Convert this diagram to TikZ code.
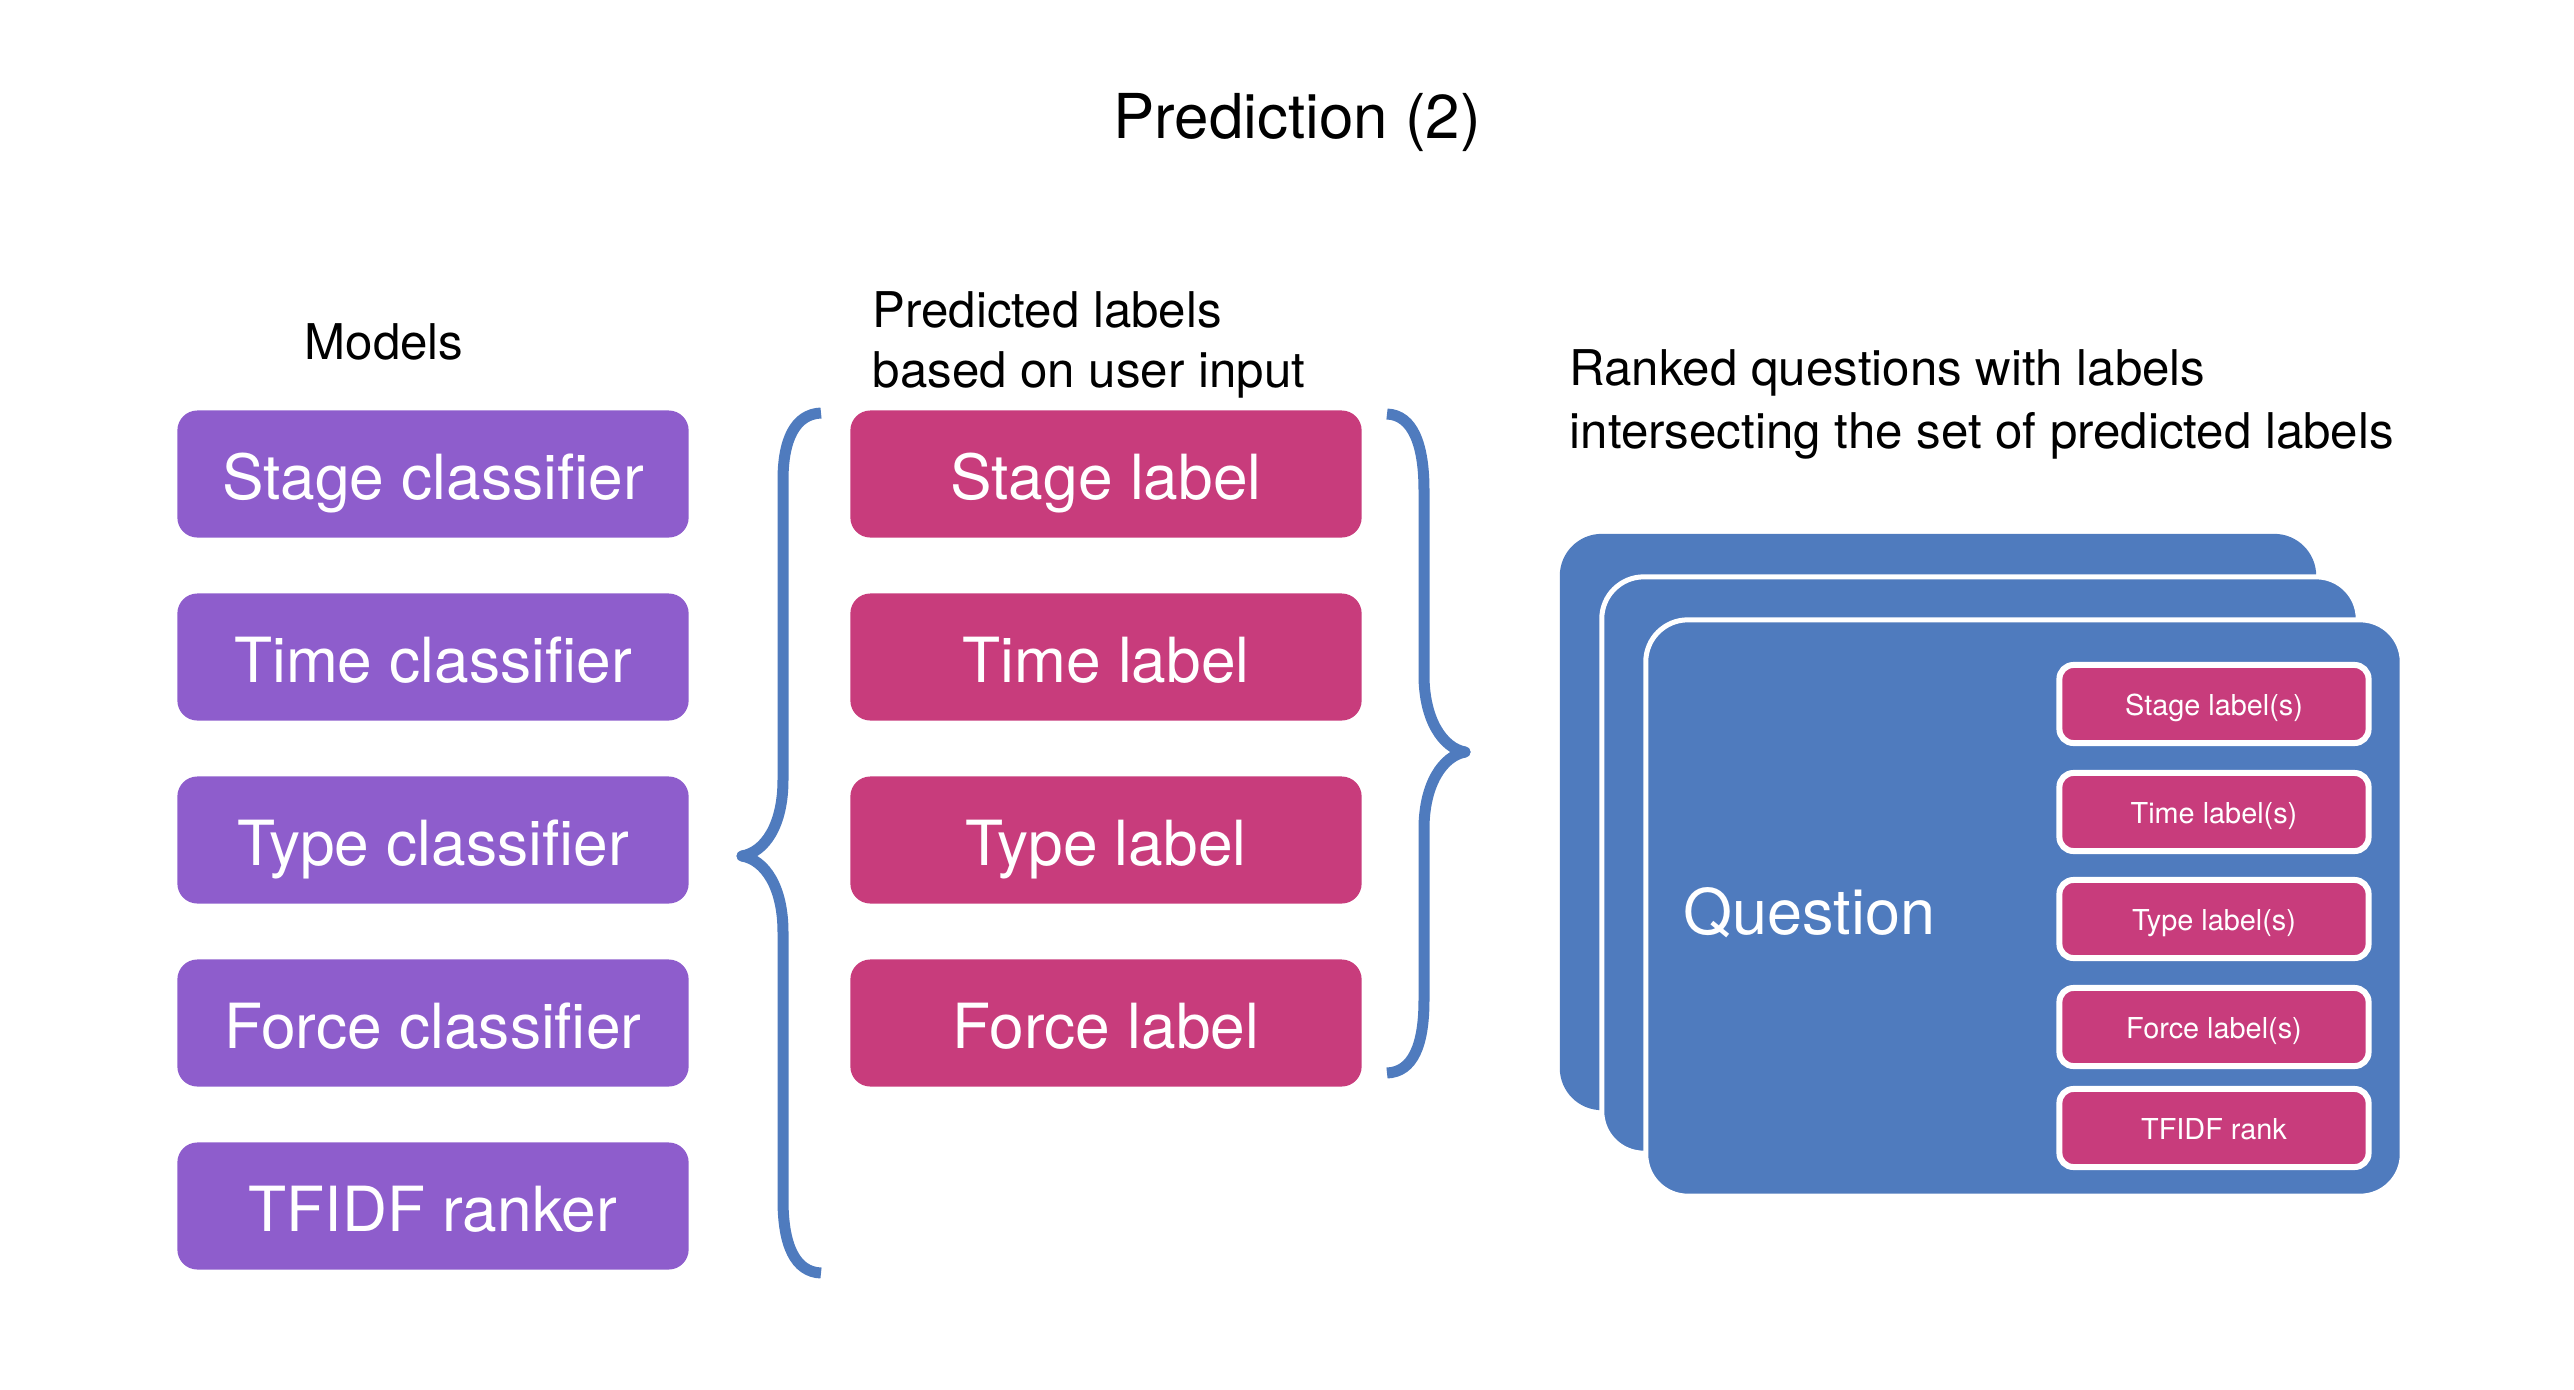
\documentclass[tikz,border=0pt]{standalone}
\usepackage{fontspec}
\setmainfont{TeX Gyre Heros}
\definecolor{modpurple}{RGB}{142,93,204}
\definecolor{labmag}{RGB}{200,60,124}
\definecolor{cardblue}{RGB}{79,123,190}
\tikzset{
  modelbox/.style={fill=modpurple, text=white, rounded corners=0.2cm, minimum width=5.11cm, minimum height=1.27cm, inner sep=0pt, text height=0.5cm, text depth=0cm, font=\fontsize{17.7}{21}\selectfont},
  labelbox/.style={fill=labmag, text=white, rounded corners=0.2cm, minimum width=5.11cm, minimum height=1.27cm, inner sep=0pt, text height=0.5cm, text depth=0cm, font=\fontsize{17.7}{21}\selectfont},
  cardbox/.style={fill=cardblue, draw=white, line width=0.05cm, rounded corners=0.42cm, minimum width=7.56cm, minimum height=5.76cm, inner sep=0pt},
  smallbox/.style={fill=labmag, draw=white, line width=0.06cm, text=white, rounded corners=0.14cm, minimum width=3.09cm, minimum height=0.78cm, inner sep=0pt, text height=0.22cm, text depth=0cm, font=\fontsize{8.2}{10}\selectfont},
  headtext/.style={font=\fontsize{14}{17.7}\selectfont, align=left, inner sep=0pt},
  bracestyle/.style={draw=cardblue, line width=0.11cm, line cap=butt, line join=round}
}
\begin{document}
\begin{tikzpicture}[x=0.01cm,y=-0.01cm]
\useasboundingbox (0,0) rectangle (2574,1390);
% title
\node[font=\fontsize{17.6}{21}\selectfont, inner sep=0pt] (title) at (1297,122) {Prediction (2)};
% headings
\node[headtext] (models) at (384,342) {Models};
\node[headtext, anchor=west] (predA) at (872,310) {Predicted labels};
\node[headtext, anchor=west] (predB) at (872,375) {based on user input};
\node[headtext, anchor=west] (rankA) at (1569,373) {Ranked questions with labels};
\node[headtext, anchor=west] (rankB) at (1569,436) {intersecting the set of predicted labels};
% models
\node[modelbox] (m1) at (433,474) {Stage classifier};
\node[modelbox] (m2) at (433,657) {Time classifier};
\node[modelbox] (m3) at (433,840) {Type classifier};
\node[modelbox] (m4) at (433,1023) {Force classifier};
\node[modelbox] (m5) at (433,1206) {TFIDF ranker};
% labels
\node[labelbox] (l1) at (1106,474) {Stage label};
\node[labelbox] (l2) at (1106,657) {Time label};
\node[labelbox] (l3) at (1106,840) {Type label};
\node[labelbox] (l4) at (1106,1023) {Force label};
% braces
\draw[bracestyle] (821,413) .. controls (795,414) and (783,440) .. (783,480) -- (783,780) .. controls (783,825) and (765,852) .. (742,856) .. controls (765,860) and (783,887) .. (783,932) -- (783,1200) .. controls (783,1245) and (795,1272) .. (821,1273);
\draw[bracestyle] (1387,414) .. controls (1413,415) and (1424,445) .. (1424,490) -- (1424,675) .. controls (1424,720) and (1443,748) .. (1465,752) .. controls (1443,756) and (1424,784) .. (1424,829) -- (1424,1000) .. controls (1424,1045) and (1413,1072) .. (1387,1073);
\fill[cardblue] (742,856) circle (0.055cm);
\fill[cardblue] (1465,752) circle (0.055cm);
% cards
\node[cardbox, draw=none] (c1) at (1938,822) {};
\node[cardbox] (c2) at (1980,865) {};
\node[cardbox] (c3) at (2024,908) {};
\node[font=\fontsize{17.9}{21}\selectfont, text=white, anchor=west, inner sep=0pt] (q) at (1683,913) {Question};
\node[smallbox] (s1) at (2214,704) {Stage label(s)};
\node[smallbox] (s2) at (2214,812) {Time label(s)};
\node[smallbox] (s3) at (2214,919) {Type label(s)};
\node[smallbox] (s4) at (2214,1027) {Force label(s)};
\node[smallbox] (s5) at (2214,1128) {TFIDF rank};
\end{tikzpicture}
\end{document}
